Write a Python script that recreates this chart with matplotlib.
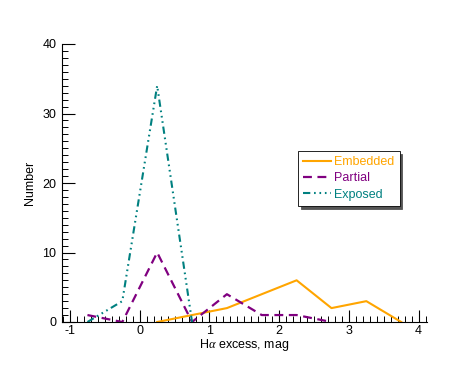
#!/usr/bin/env python3
"""
H-alpha excess histogram by environment
"""

import matplotlib
matplotlib.use('Agg')
import matplotlib.pyplot as plt
from matplotlib.ticker import MultipleLocator

plt.rcParams['font.family'] = ['Liberation Sans', 'DejaVu Sans']
plt.rcParams['mathtext.fontset'] = 'custom'
plt.rcParams['mathtext.it'] = 'Liberation Serif:italic'
plt.rcParams['axes.unicode_minus'] = False

# bin centres (mag) and counts
embedded_x = [0.25, 0.75, 1.25, 1.75, 2.25, 2.75, 3.25, 3.75]
embedded_n = [0, 1, 2, 4, 6, 2, 3, 0]

partial_x = [-0.75, -0.25, 0.25, 0.75, 1.25, 1.75, 2.25, 2.75]
partial_n = [1, 0, 10, 0, 4, 1, 1, 0]

exposed_x = [-0.75, -0.25, 0.25, 0.75]
exposed_n = [0, 3, 34, 0]

x_ticks = [-1, 0, 1, 2, 3, 4]
y_ticks = [0, 10, 20, 30, 40]

fig = plt.figure(figsize=(4.63, 3.71), dpi=100)
ax = fig.add_axes([62 / 463, 1 - 322 / 371, 365 / 463, 278 / 371])

ax.plot(embedded_x, embedded_n, color='#FFA500', lw=1.5, label='Embedded')
ax.plot(partial_x, partial_n, color='#800080', lw=1.6, linestyle=(0, (4, 2.5)),
        label='Partial')
ax.plot(exposed_x, exposed_n, color='#008080', lw=1.5,
        linestyle=(0, (3.5, 1.8, 0.8, 1.8, 0.8, 1.8, 0.8, 1.8)), label='Exposed')

ax.set_xlim(-1.115, 4.12)
ax.set_ylim(0, 40)
ax.set_xticks(x_ticks)
ax.set_yticks(y_ticks)
ax.xaxis.set_minor_locator(MultipleLocator(0.1))
ax.yaxis.set_minor_locator(MultipleLocator(1))

for side in ['top', 'right']:
    ax.spines[side].set_visible(False)
for side in ['left', 'bottom']:
    ax.spines[side].set_linewidth(0.8)

ax.tick_params(which='major', direction='in', length=9, width=0.8, labelsize=9)
ax.tick_params(axis='x', which='major', pad=2)
ax.tick_params(axis='y', which='major', pad=4)
ax.tick_params(which='minor', direction='in', length=4.5, width=0.7)

ax.set_xlabel(r'H$\alpha$ excess, mag', fontsize=9, labelpad=0)
ax.set_ylabel('Number', fontsize=9, labelpad=5)

leg = ax.legend(loc='upper left', bbox_to_anchor=(0.647, 0.615), fontsize=9,
                frameon=True, fancybox=False,
                shadow={'color': '#555555', 'alpha': 1, 'ox': 2, 'oy': -2},
                edgecolor='black', framealpha=1, handlelength=2.2,
                handletextpad=0.3, labelspacing=0.35, borderpad=0.4,
                borderaxespad=0, labelcolor='linecolor')
leg.get_frame().set_linewidth(0.6)

plt.savefig('out.png', dpi=100, facecolor='white')
plt.close()
